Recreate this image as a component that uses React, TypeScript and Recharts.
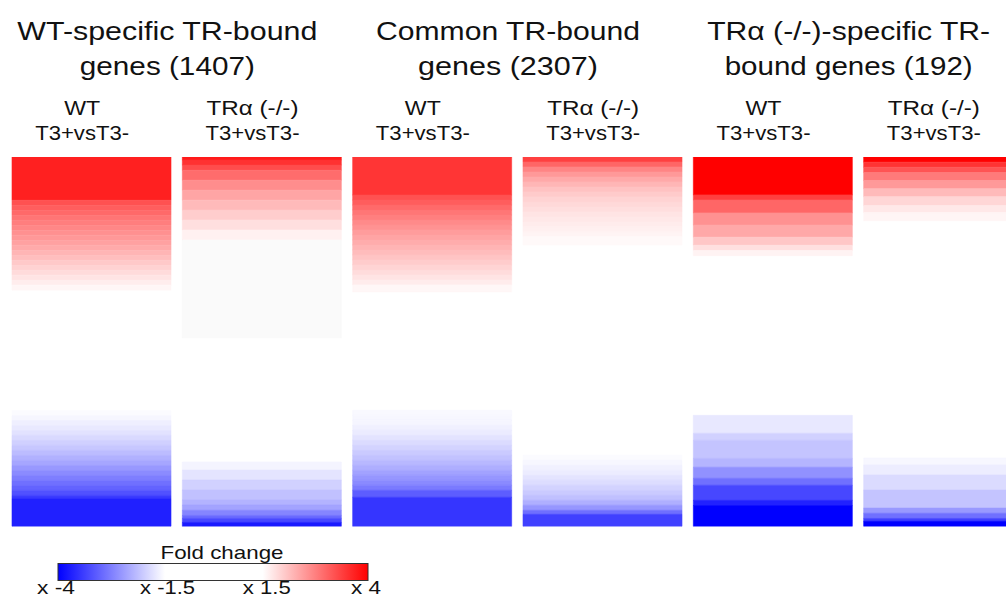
import React from 'react';
import { BarChart, Bar, XAxis, YAxis, Cell, Legend } from 'recharts';

// ---------- data ----------
const columnNames = ['WT', 'TRα (-/-)', 'WT', 'TRα (-/-)', 'WT', 'TRα (-/-)'];
const comparisonLabel = 'T3+vsT3-';
const groupTitles: [string, string][] = [
  ['WT-specific TR-bound', 'genes (1407)'],
  ['Common TR-bound', 'genes (2307)'],
  ['TRα (-/-)-specific TR-', 'bound genes (192)'],
];

// bands from top to bottom: [share of genes (%), fold change]; null = unchanged (blank), 1 = unchanged (grey)
type Band = [number, number | null];
const wtSpecificWT: Band[] = [
  [11.7, 4.0],
  [1.35, 3.45], [1.35, 3.3], [1.35, 3.18], [1.35, 3.05], [1.35, 2.95], [1.35, 2.85], [1.35, 2.75], [1.35, 2.65], [1.35, 2.55],
  [1.35, 2.45], [1.35, 2.33], [1.35, 2.23], [1.35, 2.1], [1.35, 2.0], [1.35, 1.9], [1.35, 1.8], [1.35, 1.7], [1.35, 1.6],
  [32.5, null],
  [1.35, -1.55], [1.35, -1.6], [1.35, -1.68], [1.35, -1.75], [1.35, -1.83], [1.35, -1.93], [1.35, -2.03], [1.35, -2.13], [1.35, -2.25],
  [1.35, -2.38], [1.35, -2.5], [1.35, -2.65], [1.35, -2.8], [1.35, -2.95], [1.35, -3.1], [1.35, -3.25], [1.35, -3.45], [0.8, -3.7],
  [7.6, -4.0],
];
const wtSpecificKO: Band[] = [
  [0.8, 4.0], [1.4, 3.75], [1.4, 3.45], [2.7, 3.1], [2.7, 2.75], [2.7, 2.48], [2.7, 2.25], [2.7, 2.05], [2.7, 1.85], [2.7, 1.65],
  [26.6, 1], [33.6, null],
  [2.2, -1.62], [2.7, -1.8], [2.7, -2.0], [2.7, -2.18], [1.4, -2.33], [1.4, -2.5], [1.4, -2.83], [0.8, -3.13], [1.1, -3.5], [1.1, -4.0],
];
const commonWT: Band[] = [
  [10.3, 4.0],
  [1.35, 3.65], [1.35, 3.5], [1.35, 3.35], [1.35, 3.2], [1.35, 3.08], [1.35, 2.95], [1.35, 2.85], [1.35, 2.73], [1.35, 2.63],
  [1.35, 2.53], [1.35, 2.43], [1.35, 2.33], [1.35, 2.23], [1.35, 2.13], [1.35, 2.03], [1.35, 1.93], [1.35, 1.83], [1.35, 1.73], [1.9, 1.6],
  [32.0, null],
  [1.35, -1.58], [1.35, -1.6], [1.35, -1.62], [1.35, -1.68], [1.35, -1.75], [1.35, -1.85], [1.35, -1.95], [1.35, -2.05], [1.35, -2.15],
  [1.35, -2.25], [1.35, -2.38], [1.35, -2.5], [1.35, -2.65], [1.35, -2.8], [1.35, -2.95], [1.35, -3.15], [1.9, -3.5],
  [7.9, -4.0],
];
const commonKO: Band[] = [
  [1.35, 4.0], [1.35, 3.5], [1.35, 3.1], [1.35, 2.83], [1.35, 2.63], [1.35, 2.45], [1.35, 2.3], [1.35, 2.18], [1.35, 2.08],
  [1.35, 2.0], [1.35, 1.93], [1.35, 1.85], [1.35, 1.8], [1.35, 1.75], [1.35, 1.7], [1.35, 1.65], [2.2, 1.58],
  [56.9, null],
  [1.35, -1.55], [1.35, -1.6], [1.35, -1.68], [1.35, -1.75], [1.35, -1.85], [1.35, -1.95], [1.35, -2.08], [1.35, -2.2], [1.35, -2.33],
  [1.35, -2.55], [1.35, -2.88], [1.1, -3.38], [3.3, -4.0],
];
const koSpecificWT: Band[] = [
  [10.3, 4.0], [1.4, 3.38], [3.5, 3.0], [3.3, 2.58], [3.3, 2.35], [2.2, 2.05], [1.4, 1.8], [1.4, 1.62],
  [43.4, null],
  [4.9, -1.73], [1.9, -1.95], [4.9, -2.08], [2.4, -2.23], [3.0, -2.58], [1.9, -2.9], [4.1, -3.3], [1.4, -3.68], [5.7, -4.0],
];
const koSpecificKO: Band[] = [
  [1.4, 4.0], [1.4, 3.5], [1.4, 3.18], [2.2, 2.8], [2.2, 2.5], [2.2, 2.18], [2.4, 1.9], [1.9, 1.73], [2.2, 1.6],
  [64.5, null],
  [1.9, -1.58], [2.7, -1.68], [4.1, -1.85], [4.9, -2.08], [1.4, -2.5], [1.4, -2.9], [0.8, -3.38], [1.4, -4.0],
];
const columnBands: Band[][] = [wtSpecificWT, wtSpecificKO, commonWT, commonKO, koSpecificWT, koSpecificKO];

const legendTitle = 'Fold change';
const legendTicks = ['x -4', 'x -1.5', 'x 1.5', 'x 4'];

// ---------- styles ----------
const FONT = "'Liberation Sans', Arial, Helvetica, sans-serif";
const redMax = ['#ff2020', '#ff1a1a', '#ff3535', '#ff4040', '#ff0000', '#ff0000'];
const blueMax = ['#2020ff', '#1a1aff', '#3535ff', '#4040ff', '#0000ff', '#0000ff'];
const CHART_W = 1030;
const CHART_H = 601;
const PLOT_LEFT = 6;
const PLOT_W = 1022;
const AXIS_H = 30;
const BAND = PLOT_W / 6;
const titleWidths = [[300, 175], [264, 180], [283, 248]];
const subWidths: Record<string, number> = { 'WT': 36, 'TRα (-/-)': 92, 'T3+vsT3-': 94 };
const legendTickPos = [0, 0.36, 0.68, 1.0];

function hex(c: string): number[] {
  return [1, 3, 5].map((i) => parseInt(c.slice(i, i + 2), 16));
}
function foldColor(fold: number | null, col: number): string {
  if (fold === null) return 'none';
  if (fold === 1) return '#fafafa';
  const t = Math.max(0, Math.min(1, (Math.abs(fold) - 1.5) / 2.5));
  const base = hex(fold > 0 ? redMax[col] : blueMax[col]);
  const rgb = base.map((b) => Math.round(255 + (b - 255) * t));
  return `rgb(${rgb[0]},${rgb[1]},${rgb[2]})`;
}

const nSeg = Math.max(...columnBands.map((b) => b.length));
const rows = columnNames.map((name, i) => {
  const bands = columnBands[i];
  const total = bands.reduce((s, b) => s + b[0], 0);
  const row: Record<string, number | string> = { name, idx: i };
  for (let k = 0; k < nSeg; k++) row['s' + k] = k < bands.length ? (bands[k][0] / total) * 100 : 0;
  return row;
});

const SText = ({ x, y, w, size, children }: { x: number; y: number; w?: number; size: number; children: string }) => (
  <text
    x={x}
    y={y}
    textAnchor="middle"
    fontSize={size}
    fontFamily={FONT}
    fill="#111"
    textLength={w}
    lengthAdjust={w ? 'spacingAndGlyphs' : undefined}
  >
    {children}
  </text>
);

const ColumnTick = (props: any) => {
  const { x, index, payload } = props;
  const cx = x - 9;
  const name = payload?.value as string;
  const g = Math.floor(index / 2);
  return (
    <g>
      {index % 2 === 0 && (
        <>
          <SText x={x + BAND / 2 - 9} y={40} w={titleWidths[g][0]} size={26}>{groupTitles[g][0]}</SText>
          <SText x={x + BAND / 2 - 9} y={75} w={titleWidths[g][1]} size={26}>{groupTitles[g][1]}</SText>
        </>
      )}
      <SText x={cx} y={115} w={subWidths[name]} size={21}>{name}</SText>
      <SText x={cx} y={140} w={subWidths[comparisonLabel]} size={21}>{comparisonLabel}</SText>
    </g>
  );
};

const FoldLegend = () => {
  const bx = 58;
  const bw = 310;
  return (
    <svg width={420} height={66} style={{ display: 'block' }}>
      <defs>
        <linearGradient id="foldGrad" x1="0" x2="1" y1="0" y2="0">
          <stop offset="0" stopColor="#0000ff" />
          <stop offset="0.345" stopColor="#ffffff" />
          <stop offset="0.66" stopColor="#ffffff" />
          <stop offset="1" stopColor="#ff0000" />
        </linearGradient>
      </defs>
      <SText x={222} y={24} w={123} size={19}>{legendTitle}</SText>
      <rect x={bx} y={28.5} width={bw} height={17} fill="url(#foldGrad)" stroke="#333" strokeWidth={1} />
      {legendTicks.map((t, i) => (
        <SText key={t} x={bx - 2 + legendTickPos[i] * bw} y={59} w={[38, 55, 48, 30][i]} size={19}>{t}</SText>
      ))}
    </svg>
  );
};

export default function App() {
  return (
    <div style={{ position: 'absolute', left: 0, top: 0, width: 1006, height: 601, overflow: 'hidden', background: '#fff' }}>
      <BarChart
        width={CHART_W}
        height={CHART_H}
        data={rows}
        margin={{ top: 157 - AXIS_H, left: PLOT_LEFT, right: CHART_W - PLOT_LEFT - PLOT_W, bottom: 74.5 }}
      >
        <XAxis
          dataKey="name"
          orientation="top"
          height={AXIS_H}
          axisLine={false}
          tickLine={false}
          interval={0}
          allowDuplicatedCategory
          tick={<ColumnTick />}
        />
        <YAxis type="number" domain={[0, 100]} reversed hide allowDataOverflow />
        <Legend
          layout="horizontal"
          verticalAlign="middle"
          align="center"
          wrapperStyle={{ position: 'absolute', left: 0, top: 535, width: 420, height: 66, margin: 0, padding: 0 }}
          content={() => <FoldLegend />}
        />
        {Array.from({ length: nSeg }).map((_, k) => (
          <Bar key={k} dataKey={'s' + k} stackId="h" barSize={159} isAnimationActive={false} legendType="none">
            {rows.map((_, i) => {
              const band = columnBands[i][k];
              const fill = band ? foldColor(band[1], i) : 'none';
              return <Cell key={i} fill={fill} stroke={fill} strokeWidth={fill === 'none' ? 0 : 0.6} />;
            })}
          </Bar>
        ))}
      </BarChart>
    </div>
  );
}
